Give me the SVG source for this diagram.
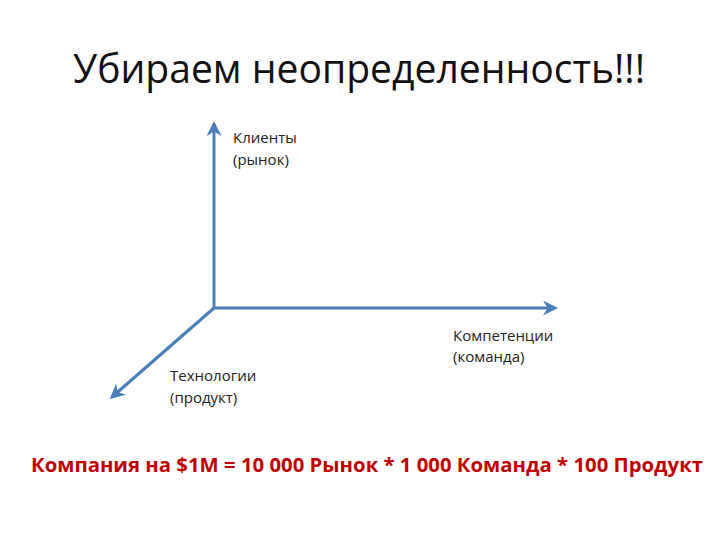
<svg xmlns="http://www.w3.org/2000/svg" width="720" height="540" viewBox="0 0 720 540">
<style>
.lbl{font-family:"Open Sans","Noto Sans","DejaVu Sans",sans-serif;font-size:15px;fill:#222}
.ax{stroke:#4a7ebb;stroke-width:3;fill:none}
</style>
<defs>
<marker id="ah" viewBox="0 0 10 10" refX="8" refY="5" markerWidth="5" markerHeight="5" orient="auto" markerUnits="strokeWidth">
<path d="M0,0 L10,5 L0,10 L3,5 Z" fill="#4a7ebb"/>
</marker>
</defs>
<rect width="720" height="540" fill="#fff"/>
<text x="73" y="83" font-family="'Open Sans','Noto Sans',sans-serif" font-size="40" fill="#111" textLength="572" lengthAdjust="spacingAndGlyphs">Убираем неопределенность!!!</text>
<g id="connectors">
<line class="ax" x1="214" y1="308" x2="214" y2="124" marker-end="url(#ah)"/>
<line class="ax" x1="214" y1="308" x2="555" y2="308" marker-end="url(#ah)"/>
<line class="ax" x1="214" y1="308" x2="112" y2="397" marker-end="url(#ah)"/>
</g>
<g id="clients"><text class="lbl" x="233" y="143">Клиенты</text><text class="lbl" x="233" y="165">(рынок)</text></g>
<g id="competence"><text class="lbl" x="453" y="341">Компетенции</text><text class="lbl" x="453" y="362">(команда)</text></g>
<g id="tech"><text class="lbl" x="170" y="381">Технологии</text><text class="lbl" x="170" y="403">(продукт)</text></g>
<text x="31" y="472" font-family="'Open Sans','Noto Sans',sans-serif" font-weight="bold" font-size="20" fill="#c00000" textLength="672" lengthAdjust="spacingAndGlyphs">Компания на $1M = 10 000 Рынок * 1 000 Команда * 100 Продукт</text>
</svg>
